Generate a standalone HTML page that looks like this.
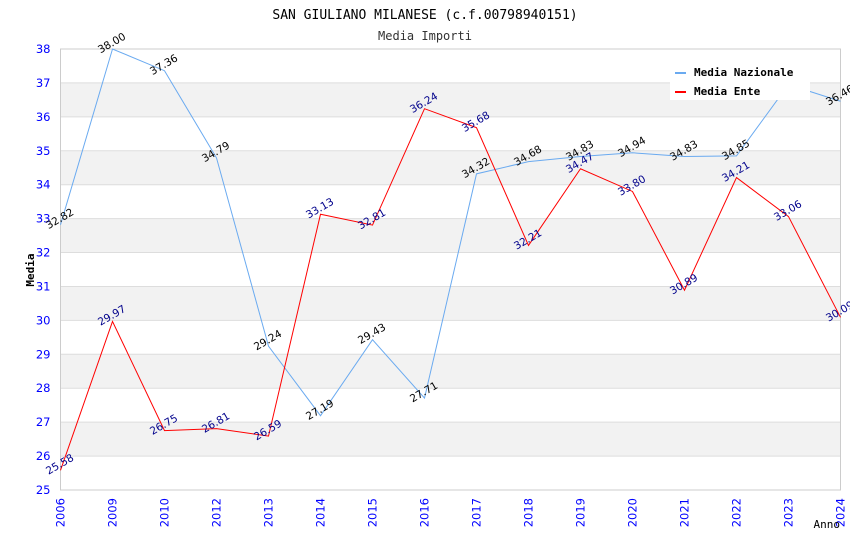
<!DOCTYPE html>
<html><head><meta charset="utf-8"><style>body{margin:0;background:#fff}svg{display:block}</style></head>
<body>
<svg id="c" width="850" height="550" xmlns="http://www.w3.org/2000/svg"></svg>
<script>
const categories=["2006","2009","2010","2012","2013","2014","2015","2016","2017","2018","2019","2020","2021","2022","2023","2024"];
const nazionale=[32.82,38.00,37.36,34.79,29.24,27.19,29.43,27.71,34.32,34.68,34.83,34.94,34.83,34.85,36.95,36.46];
const ente=[25.58,29.97,26.75,26.81,26.59,33.13,32.81,36.24,35.68,32.21,34.47,33.80,30.89,34.21,33.06,30.09];
const yTicks=[25,26,27,28,29,30,31,32,33,34,35,36,37,38];
const svg=document.getElementById('c');const NS='http://www.w3.org/2000/svg';
const L=60.5,R=840.5,T=49,B=490,yMin=25,yMax=38;
function x(i){return L+i*(R-L)/(categories.length-1);}
function y(v){return B-(v-yMin)/(yMax-yMin)*(B-T);}
function mk(t,a,txt){const e=document.createElementNS(NS,t);for(const k in a)e.setAttribute(k,a[k]);if(txt!==undefined)e.textContent=txt;svg.appendChild(e);return e;}
for(let i=0;i<yTicks.length-1;i++){const v=yTicks[i];
 const r=mk('rect',{x:L,y:y(v+1),width:R-L,height:y(v)-y(v+1),fill:(v%2===0)?'#f2f2f2':'#fff'});
 }
yTicks.forEach(v=>{const g=mk('line',{x1:L,x2:R,y1:y(v),y2:y(v),stroke:'#ddd'});
 
 const t=mk('text',{x:L-10,y:y(v)+4,'text-anchor':'end','font-family':'DejaVu Sans, sans-serif','font-size':11.5,fill:'#00f'},v);
 });
const fr=mk('rect',{x:L,y:T,width:R-L,height:B-T,fill:'none',stroke:'#ccc'});

categories.forEach((c,i)=>{const t=mk('text',{x:0,y:0,'text-anchor':'end','font-family':'DejaVu Sans, sans-serif','font-size':11.5,fill:'#00f',transform:`translate(${x(i)+4},${B+8}) rotate(-90)`},c);
 });
function series(vals,color,lc,name){
 const p=mk('polyline',{points:vals.map((v,i)=>x(i)+','+y(v)).join(' '),fill:'none',stroke:color,'stroke-width':1});
 
 vals.forEach((v,i)=>{const t=mk('text',{x:0,y:0,'text-anchor':'middle','font-family':'DejaVu Sans, sans-serif','font-size':10.5,fill:lc,transform:`translate(${x(i)+1},${y(v)-3}) rotate(-30)`},v.toFixed(2));
  });}
series(nazionale,'#6aaaf0','#000','nazionale');
series(ente,'#f00','#00008b','ente');
const lg=mk('rect',{x:670,y:58,width:140,height:42,fill:'#fff'});
[['Media Nazionale','#6aaaf0',72],['Media Ente','#f00',91]].forEach(([n,c,yy])=>{
 const s=mk('rect',{x:675,y:yy,width:11,height:2,fill:c});
 const t=mk('text',{x:694,y:yy+4,'font-family':'DejaVu Sans Mono, monospace','font-size':11,'font-weight':'bold',fill:'#000'},n);
 });
const t1=mk('text',{x:425,y:19,'text-anchor':'middle','font-family':'DejaVu Sans Mono, monospace','font-size':13,fill:'#000'},'SAN GIULIANO MILANESE (c.f.00798940151)');

const t2=mk('text',{x:425,y:40,'text-anchor':'middle','font-family':'DejaVu Sans Mono, monospace','font-size':12,fill:'#333'},'Media Importi');

const ya=mk('text',{x:0,y:0,'text-anchor':'middle','font-family':'DejaVu Sans Mono, monospace','font-size':11,'font-weight':'bold',fill:'#000',transform:'translate(34,270) rotate(-90)'},'Media');

const xa=mk('text',{x:840,y:528,'text-anchor':'end','font-family':'DejaVu Sans Mono, monospace','font-size':11,fill:'#000'},'Anno');

</script>
</body></html>
